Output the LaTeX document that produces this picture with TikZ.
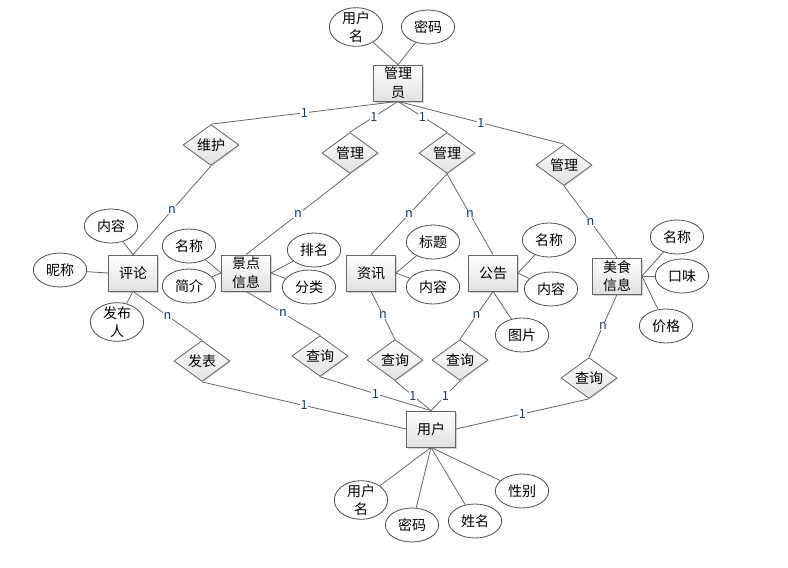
\documentclass[tikz,border=0pt]{standalone}
\usepackage{fontspec}
\setmainfont{Noto Sans CJK SC}
\usetikzlibrary{shapes.geometric,shadows}
\definecolor{cardblue}{RGB}{20,60,105}

\begin{document}
\begin{tikzpicture}[
  x = 0.75pt, y = -0.75pt,
  font          = \fontsize{10.5}{14}\selectfont,
  every node/.style = {align=center},
  entity/.style = {draw=black!60, line width=0.6pt, inner sep=1pt,
                   minimum width=36.75pt, minimum height=27pt,
                   top color=white, bottom color=black!12,
                   drop shadow={shadow xshift=1.2pt, shadow yshift=-1.2pt,
                                opacity=0.35}},
  relation/.style = {diamond, draw=black!60, line width=0.6pt, inner sep=0pt,
                   minimum width=42pt, minimum height=25pt,
                   top color=white, bottom color=black!12,
                   drop shadow={shadow xshift=0.8pt, shadow yshift=-0.8pt,
                                opacity=0.25}},
  attr/.style   = {ellipse, draw=black!70, line width=0.6pt, fill=white,
                   inner sep=0pt, minimum width=40pt, minimum height=25.5pt},
  attr2/.style  = {attr, minimum height=29pt},
  link/.style   = {draw=black!60, line width=0.6pt},
  card/.style   = {font=\fontsize{9.5}{10}\selectfont, text=cardblue,
                   fill=white, inner sep=0.5pt},
]
\useasboundingbox (0,0) rectangle (788,567);

% Administrator and its attributes
\node[entity] (adm) at (398,83) {管理\\员};
\node[attr2, label={center:用户\\名}] (aun) at (356,27) {};
\node[attr] (apw) at (428,27) {密码};

% Relations below the administrator
\node[relation] (rwh)  at (211,145) {维护};
\node[relation] (rgl1) at (350,153) {管理};
\node[relation] (rgl2) at (447,153) {管理};
\node[relation] (rgl3) at (564,165) {管理};

% Middle row: entities
\node[entity] (epl) at (133,273) {评论};
\node[entity] (ejd) at (246,273) {景点\\信息};
\node[entity] (ezx) at (371,273) {资讯};
\node[entity] (egg) at (493,273) {公告};
\node[entity] (ems) at (617,276) {美食\\信息};

% Attributes of the middle row
\node[attr] (pnr) at (111,226) {内容};
\node[attr] (pnc) at (60,270)  {昵称};
\node[attr2, label={center:发布\\人}] (pfb) at (117,322) {};
\node[attr] (jmc) at (189,246) {名称};
\node[attr] (jjj) at (189,286) {简介};
\node[attr] (jpm) at (314,250) {排名};
\node[attr] (jfl) at (309,287) {分类};
\node[attr] (zbt) at (433,242) {标题};
\node[attr] (znr) at (433,287) {内容};
\node[attr] (gmc) at (549,240) {名称};
\node[attr] (gnr) at (551,289) {内容};
\node[attr] (gtp) at (522,335) {图片};
\node[attr] (mmc) at (677,237) {名称};
\node[attr] (mkw) at (682,276) {口味};
\node[attr] (mjg) at (666,326) {价格};

% Relations above the user
\node[relation] (rfb)  at (202,361) {发表};
\node[relation] (rcx1) at (320,356) {查询};
\node[relation] (rcx2) at (395,360) {查询};
\node[relation] (rcx3) at (460,360) {查询};
\node[relation] (rcx4) at (589,378) {查询};

% User and its attributes
\node[entity] (eyh) at (431,429) {用户};
\node[attr2, label={center:用户\\名}] (yun) at (361,500) {};
\node[attr] (ypw) at (412,525) {密码};
\node[attr] (yxm) at (475,521) {姓名};
\node[attr] (yxb) at (522,491) {性别};

% Attribute links
\draw[link] (aun) -- (adm.north);
\draw[link] (apw) -- (adm.north);
\draw[link] (pnr) -- (epl.north);
\draw[link] (pnc) -- (epl.west);
\draw[link] (pfb) -- (epl.south);
\draw[link] (jmc) -- (ejd.west);
\draw[link] (jjj) -- (ejd.west);
\draw[link] (jpm) -- (ejd.east);
\draw[link] (jfl) -- (ejd.east);
\draw[link] (zbt) -- (ezx.east);
\draw[link] (znr) -- (ezx.east);
\draw[link] (gmc) -- (egg.east);
\draw[link] (gnr) -- (egg.east);
\draw[link] (gtp) -- (egg.south);
\draw[link] (mmc) -- (ems.east);
\draw[link] (mkw) -- (ems.east);
\draw[link] (mjg) -- (ems.east);
\draw[link] (yun) -- (eyh.south);
\draw[link] (ypw) -- (eyh.south);
\draw[link] (yxm) -- (eyh.south);
\draw[link] (yxb) -- (eyh.south);

% Administrator relations
\draw[link] (adm.south) -- node[card] {1} (rwh.north);
\draw[link] (adm.south) -- node[card] {1} (rgl1.north);
\draw[link] (adm.south) -- node[card] {1} (rgl2.north);
\draw[link] (adm.south) -- node[card] {1} (rgl3.north);
\draw[link] (rwh.south)  -- node[card] {n} (epl.north);
\draw[link] (rgl1.south) -- node[card] {n} (ejd.north);
\draw[link] (rgl2.south) -- node[card] {n} (ezx.north);
\draw[link] (rgl2.south) -- node[card] {n} (egg.north);
\draw[link] (rgl3.south) -- node[card] {n} (ems.north);

% User relations
\draw[link] (epl.south)  -- node[card] {n} (rfb.north);
\draw[link] (rfb.south)  -- node[card] {1} (eyh.west);
\draw[link] (ejd.south)  -- node[card] {n} (rcx1.north);
\draw[link] (rcx1.south) -- node[card] {1} (eyh.north);
\draw[link] (ezx.south)  -- node[card] {n} (rcx2.north);
\draw[link] (rcx2.south) -- node[card] {1} (eyh.north);
\draw[link] (egg.south)  -- node[card] {n} (rcx3.north);
\draw[link] (rcx3.south) -- node[card] {1} (eyh.north);
\draw[link] (ems.south)  -- node[card] {n} (rcx4.north);
\draw[link] (rcx4.south) -- node[card] {1} (eyh.east);

\end{tikzpicture}
\end{document}
